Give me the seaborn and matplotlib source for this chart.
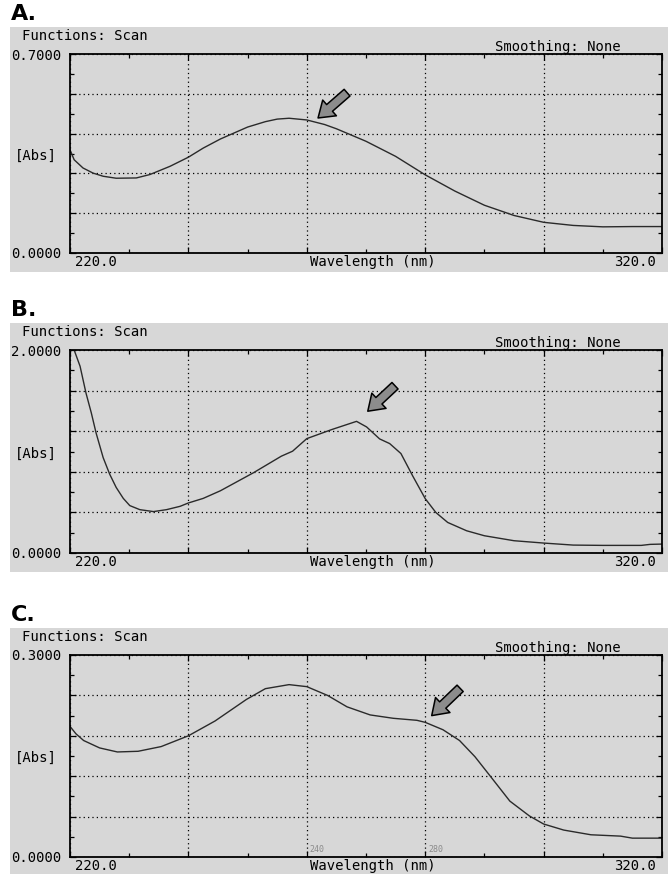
import numpy as np
import seaborn as sns
import matplotlib
matplotlib.use('Agg')
import matplotlib.pyplot as plt
from matplotlib.patches import Rectangle

# spectra (wavelength nm, absorbance)
wl_a = [220, 220.7, 222.2, 223.9, 225.6, 227.8, 231.2, 233.5, 236.9, 240, 242.5,
        245.4, 250, 253, 255, 257, 260, 263, 265, 270, 275, 280, 285, 290, 295,
        300, 305, 310, 315, 320]
abs_a = [0.363, 0.328, 0.299, 0.281, 0.270, 0.263, 0.264, 0.276, 0.305, 0.337,
         0.369, 0.401, 0.443, 0.462, 0.471, 0.474, 0.468, 0.452, 0.437, 0.393,
         0.340, 0.275, 0.218, 0.168, 0.132, 0.108, 0.097, 0.092, 0.093, 0.093]

wl_b = [220, 220.7, 221.7, 222.7, 223.6, 224.4, 225.6, 226.7, 227.8, 229.0, 230.1,
        231.8, 234.1, 236.3, 238.6, 240, 242.5, 245.4, 251, 255.7, 257.6, 260,
        264.2, 268.4, 270.1, 272.3, 274, 275.9, 277.9, 280, 281.8, 283.8, 287,
        290, 295, 300, 305, 310, 316.5, 318, 320]
abs_b = [2.1, 2.0, 1.84, 1.576, 1.38, 1.184, 0.94, 0.777, 0.646, 0.538, 0.467,
         0.427, 0.408, 0.427, 0.46, 0.493, 0.538, 0.613, 0.791, 0.954, 1.003,
         1.127, 1.216, 1.297, 1.242, 1.124, 1.078, 0.98, 0.758, 0.536, 0.399,
         0.301, 0.219, 0.17, 0.121, 0.098, 0.078, 0.075, 0.075, 0.085, 0.088]

wl_c = [220, 221, 222.3, 225, 228, 231.5, 235.4, 240, 244.5, 249.8, 253, 257,
        260, 263.5, 266.8, 270.7, 274.6, 278.6, 280, 283, 285.8, 288.4, 291,
        294.3, 297.6, 300, 303.4, 308, 313, 315, 320]
abs_c = [0.194, 0.183, 0.173, 0.162, 0.156, 0.157, 0.164, 0.180, 0.202, 0.234,
         0.250, 0.256, 0.253, 0.240, 0.223, 0.211, 0.206, 0.203, 0.200, 0.189,
         0.173, 0.149, 0.120, 0.083, 0.061, 0.049, 0.040, 0.033, 0.031, 0.028,
         0.028]

letters = ['A.', 'B.', 'C.']
y_tops = [0.7, 2.0, 0.3]
top_labels = ['0.7000', '2.0000', '0.3000']
# arrows: (tail, head) in data units
arrows = [((266.8, 0.564), (261.9, 0.475)),
          ((274.9, 1.648), (270.3, 1.397)),
          ((285.9, 0.2505), (281.1, 0.210))]

W, H = 668, 874
# axes frame in pixels: top, bottom
frames = [(54, 253), (350, 553), (655, 857)]
AX_L, AX_R = 70, 662

sns.set_theme(style='ticks')
plt.rcParams['font.family'] = ['DejaVu Sans Mono']
plt.rcParams['text.color'] = 'black'
plt.rcParams['ytick.color'] = 'black'
plt.rcParams['ytick.labelcolor'] = 'black'
GRAY = '#d7d7d7'


def fx(x):
    return x / W


def fy(y):
    return 1 - y / H


def draw_panel(fig, k, wl, ab):
    top, bot = frames[k]
    ymax = y_tops[k]

    fig.patches.append(Rectangle((fx(10), fy(bot + 19)), fx(W - 10), (bot + 19 - (top - 27)) / H,
                                 transform=fig.transFigure, facecolor=GRAY,
                                 edgecolor='none', zorder=-10))

    ax = fig.add_axes([fx(AX_L), fy(bot), (AX_R - AX_L) / W, (bot - top) / H])
    ax.set_zorder(2)
    ax.set_facecolor(GRAY)
    sns.lineplot(x=wl, y=ab, ax=ax, color='#2a2a2a', lw=1.0, sort=False)
    ax.set_xlim(220, 320)
    ax.set_ylim(0, ymax)

    ax.set_xticks(np.arange(220, 321, 20))
    ax.set_xticks(np.arange(220, 321, 10), minor=True)
    ax.set_yticks(np.linspace(0, ymax, 6))
    ax.set_yticks(np.linspace(0, ymax, 11), minor=True)
    ax.set_yticklabels(['0.0000', '', '', '', '', top_labels[k]])
    ax.tick_params(which='both', direction='in', top=True, right=True,
                   labelbottom=False, width=0.9, color='black')
    ax.tick_params(which='major', length=4, pad=6, labelsize=10)
    ax.tick_params(which='minor', length=3)
    ax.grid(True, which='major', color='black', lw=0.9, linestyle=(0, (1, 2.5)))
    for s in ax.spines.values():
        s.set_color('black')
        s.set_linewidth(1.3)
    ax.set_xlabel('')
    ax.set_ylabel('')

    (tx, ty), (hx, hy) = arrows[k]
    ax.annotate('', xy=(hx, hy), xytext=(tx, ty),
                arrowprops=dict(arrowstyle='simple,head_length=0.55,head_width=0.75,tail_width=0.32',
                                fc='#8c8c8c', ec='black', lw=1.1, mutation_scale=20,
                                shrinkA=0, shrinkB=0))

    fig.text(fx(11), fy(top - 40), letters[k], fontsize=16, fontweight='bold',
             family='DejaVu Sans', va='center', ha='left')
    fig.text(fx(22), fy(top - 18), 'Functions: Scan', fontsize=10, va='center')
    fig.text(fx(495), fy(top - 7), 'Smoothing: None', fontsize=10, va='center')
    fig.text(fx(15), fy((top + bot) / 2 + 2), '[Abs]', fontsize=10, va='center')
    fig.text(fx(75), fy(bot + 9), '220.0', fontsize=10, va='center')
    fig.text(fx(310), fy(bot + 9), 'Wavelength (nm)', fontsize=10, va='center')
    fig.text(fx(656), fy(bot + 9), '320.0', fontsize=10, va='center', ha='right')
    return ax


fig = plt.figure(figsize=(W / 100, H / 100), dpi=100)
fig.patch.set_facecolor('white')

draw_panel(fig, 0, wl_a, abs_a)
draw_panel(fig, 1, wl_b, abs_b)
ax_c = draw_panel(fig, 2, wl_c, abs_c)

# faint scale marks visible on scan C
for w, s in [(260.5, '240'), (280.5, '280')]:
    ax_c.text(w, 0.004, s, fontsize=6, color='#8a8a8a', va='bottom', ha='left')

fig.savefig('out.png', dpi=100, facecolor='white')
